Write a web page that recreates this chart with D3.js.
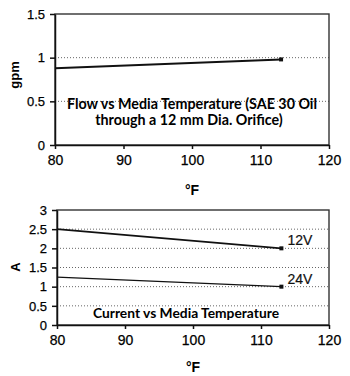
<!DOCTYPE html>
<html>
<head>
<meta charset="utf-8">
<script src="https://cdn.jsdelivr.net/npm/d3@7"></script>
<style>
  html, body { margin: 0; padding: 0; background: #fff; }
  svg { display: block; }
  .tick text { font-family: "Liberation Sans", Arial, sans-serif; fill: #000; stroke: #000; stroke-width: 0.25; }
</style>
</head>
<body>
<svg id="chart" width="350" height="376"></svg>
<script>
// Temperature (°F) at the two measured points
const tempF = [80, 113];
// Flow (gpm) of SAE 30 oil through a 12 mm orifice
const flowGpm = [0.88, 0.98];
// Current draw (A) for each supply voltage
const current12V = [2.5, 2.0];
const current24V = [1.25, 1.0];
const seriesNames = ["12V", "24V"];

const xTicks = [80, 90, 100, 110, 120];
const flowTicks = [0, 0.5, 1, 1.5];
const currentTicks = [0, 0.5, 1, 1.5, 2, 2.5, 3];

const svg = d3.select("#chart");
const ink = "#111";
const labelFont = "'Liberation Sans', Arial, sans-serif";
const titleFont = "Lato, 'Open Sans', sans-serif";

function panel(opts) {
  const { x, y, yTicks, series, yLabel, xLabelY, titles } = opts;
  const g = svg.append("g");
  const [x0, x1] = x.range();
  const [y0, y1] = y.range();

  // dotted gridlines
  g.append("g").selectAll("line")
    .data(yTicks.filter(v => v > y.domain()[0] && v < y.domain()[1]))
    .join("line")
    .attr("x1", x0).attr("x2", x1)
    .attr("y1", d => y(d)).attr("y2", d => y(d))
    .attr("stroke", "#666").attr("stroke-width", 1)
    .attr("stroke-dasharray", "1,2");

  // plot frame
  g.append("rect")
    .attr("x", x0).attr("y", y1)
    .attr("width", x1 - x0).attr("height", y0 - y1)
    .attr("fill", "none").attr("stroke", "#333").attr("stroke-width", 1.4);

  // axes
  const ax = g.append("g").attr("transform", `translate(0,${y0})`)
    .call(d3.axisBottom(x).tickValues(xTicks).tickSize(4).tickSizeOuter(0)
      .tickPadding(6).tickFormat(d => String(d)));
  ax.selectAll("text").attr("font-size", 14);
  const ay = g.append("g").attr("transform", `translate(${x0},0)`)
    .call(d3.axisLeft(y).tickValues(yTicks).tickSize(5).tickSizeOuter(0)
      .tickPadding(5).tickFormat(d => String(d)));
  ay.selectAll("text").attr("font-size", 13);
  g.selectAll(".domain, .tick line").attr("stroke", ink).attr("stroke-width", 1.5);

  // data lines with end markers
  series.forEach(s => {
    const pts = tempF.map((t, i) => [x(t), y(s.values[i])]);
    g.append("path")
      .attr("d", d3.line()(pts))
      .attr("fill", "none").attr("stroke", ink)
      .attr("stroke-width", s.width);
    const last = pts[pts.length - 1];
    g.append("rect")
      .attr("x", last[0] - 2).attr("y", last[1] - 2)
      .attr("width", 4).attr("height", 4).attr("fill", ink);
    if (s.name) {
      g.append("text")
        .attr("x", last[0] + 6).attr("y", last[1] - 3)
        .attr("font-family", labelFont).attr("font-size", 14)
        .attr("fill", ink).attr("stroke", ink).attr("stroke-width", 0.2)
        .text(s.name);
    }
  });

  // in-plot titles
  titles.forEach(t => {
    g.append("text")
      .attr("x", t.x).attr("y", t.y).attr("text-anchor", "middle")
      .attr("font-family", titleFont).attr("font-weight", "bold")
      .attr("font-size", t.size).attr("fill", "#000")
      .text(t.text);
  });

  // axis titles
  g.append("text")
    .attr("transform", `translate(${yLabel.x},${yLabel.y}) rotate(-90)`)
    .attr("text-anchor", "middle")
    .attr("font-family", labelFont).attr("font-weight", "bold")
    .attr("font-size", 13).attr("fill", "#000")
    .text(yLabel.text);
  g.append("text")
    .attr("x", (x0 + x1) / 2).attr("y", xLabelY).attr("text-anchor", "middle")
    .attr("font-family", labelFont).attr("font-weight", "bold")
    .attr("font-size", 14).attr("fill", "#000")
    .text("°F");
}

// upper panel: flow
panel({
  x: d3.scaleLinear().domain([80, 120]).range([55, 329]),
  y: d3.scaleLinear().domain([0, 1.5]).range([145, 14]),
  yTicks: flowTicks,
  series: [{ values: flowGpm, width: 2 }],
  yLabel: { x: 19, y: 75, text: "gpm" },
  xLabelY: 195,
  titles: [
    { x: 192, y: 109, size: 14.3, text: "Flow vs Media Temperature (SAE 30 Oil" },
    { x: 189, y: 125, size: 14.3, text: "through a 12 mm Dia. Orifice)" }
  ]
});

// lower panel: current
panel({
  x: d3.scaleLinear().domain([80, 120]).range([57, 329]),
  y: d3.scaleLinear().domain([0, 3]).range([325, 210]),
  yTicks: currentTicks,
  series: [
    { name: seriesNames[0], values: current12V, width: 1.8 },
    { name: seriesNames[1], values: current24V, width: 1.2 }
  ],
  yLabel: { x: 20, y: 267, text: "A" },
  xLabelY: 372,
  titles: [
    { x: 186, y: 318, size: 13.8, text: "Current vs Media Temperature" }
  ]
});
</script>
</body>
</html>
